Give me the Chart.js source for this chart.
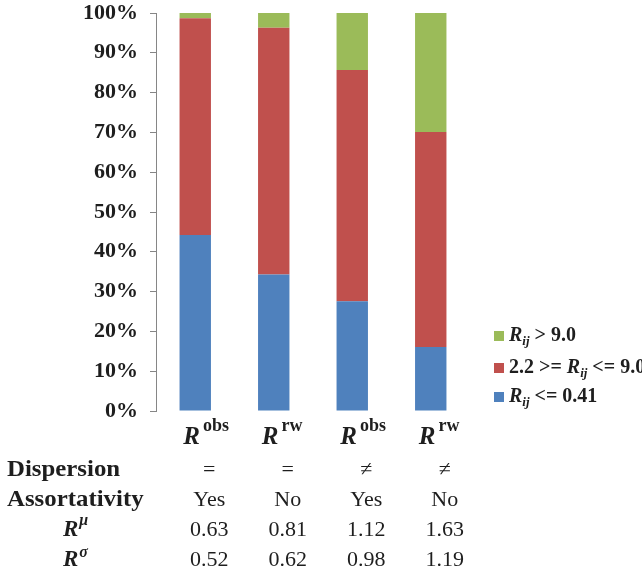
<!DOCTYPE html>
<html>
<head>
<meta charset="utf-8">
<script src="https://cdn.jsdelivr.net/npm/chart.js@4/dist/chart.umd.min.js"></script>
<style>
html,body{margin:0;padding:0;background:#fff;}
#wrap{width:642px;height:574px;position:relative;}
</style>
</head>
<body>
<div id="wrap"><canvas id="c" width="642" height="574"></canvas></div>
<script>
// ---- data ----
const categories = ['obs', 'rw', 'obs', 'rw'];          // superscripts of R
const lowShare  = [44.2, 34.3, 27.6, 16.1];            // R_ij <= 0.41
const midShare  = [54.5, 62.0, 58.1, 54.0];            // 2.2 >= R_ij <= 9.0
const highShare = [1.3, 3.7, 14.3, 29.9];              // R_ij > 9.0
const yTickValues = [0,10,20,30,40,50,60,70,80,90,100];
const dispersion    = ['=', '=', '\u2260', '\u2260'];
const assortativity = ['Yes', 'No', 'Yes', 'No'];
const rMu    = ['0.63', '0.81', '1.12', '1.63'];
const rSigma = ['0.52', '0.62', '0.98', '1.19'];
const seriesNames = ['R_ij <= 0.41', '2.2 >= R_ij <= 9.0', 'R_ij > 9.0'];
const seriesColors = ['#4F81BD', '#C0504D', '#9BBB59'];

const SERIF = '"Liberation Serif", "Times New Roman", serif';
const INK = '#1e1e1e';

// legend rich-text pieces: [prefix, suffix]
const legendParts = [['', ' <= 0.41'], ['2.2 >= ', ' <= 9.0'], ['', ' > 9.0']];

const richPlugin = {
  id: 'rich',
  afterDraw(chart) {
    const ctx = chart.ctx;
    const xs = chart.scales.x;
    ctx.save();
    ctx.fillStyle = INK;
    ctx.textBaseline = 'alphabetic';
    ctx.textAlign = 'left';
    // x category labels: bold italic R with bold superscript
    categories.forEach((sup, i) => {
      const cx = xs.getPixelForValue(i);
      let x = cx - 12;
      ctx.font = 'italic bold 25px ' + SERIF;
      ctx.fillText('R', x, 444);
      x += ctx.measureText('R').width + 3;
      ctx.font = 'bold 18px ' + SERIF;
      ctx.fillText(sup, x, 431);
    });
    // table
    const rowY = [476, 506, 536, 566];
    const stretched = (t, x, y, sx) => {
      ctx.save();
      ctx.translate(x, y);
      ctx.scale(sx, 1);
      ctx.fillText(t, 0, 0);
      ctx.restore();
    };
    ctx.font = 'bold 23px ' + SERIF;
    stretched('Dispersion', 7, rowY[0], 1.08);
    stretched('Assortativity', 7, rowY[1], 1.08);
    const drawRSup = (sup, y, dy) => {
      ctx.font = 'italic bold 23px ' + SERIF;
      ctx.fillText('R', 63, y);
      const w = ctx.measureText('R').width;
      ctx.font = 'italic bold 16px ' + SERIF;
      ctx.fillText(sup, 63 + w + 1, y - dy);
    };
    drawRSup('\u03BC', rowY[2], 11);
    drawRSup('\u03C3', rowY[3], 9);
    ctx.textAlign = 'center';
    ctx.font = '22px ' + SERIF;
    const rows = [dispersion, assortativity, rMu, rSigma];
    rows.forEach((row, r) => {
      row.forEach((t, i) => {
        const cx = xs.getPixelForValue(i) + 14;
        ctx.fillText(t, cx, rowY[r]);
      });
    });
    // legend (top entry = last dataset)
    ctx.textAlign = 'left';
    const legY = [402, 373, 341];
    legendParts.forEach((p, k) => {
      const y = legY[k];
      ctx.fillStyle = chart.data.datasets[k].backgroundColor;
      ctx.fillRect(494, y - 10, 10, 10);
      ctx.fillStyle = INK;
      let x = 509;
      ctx.font = 'bold 20px ' + SERIF;
      if (p[0]) { ctx.fillText(p[0], x, y); x += ctx.measureText(p[0]).width; }
      ctx.font = 'italic bold 20px ' + SERIF;
      ctx.fillText('R', x, y); x += ctx.measureText('R').width;
      ctx.font = 'italic bold 13px ' + SERIF;
      ctx.fillText('ij', x, y + 4); x += ctx.measureText('ij').width;
      ctx.font = 'bold 20px ' + SERIF;
      ctx.fillText(p[1], x, y);
    });
    ctx.restore();
  }
};

new Chart(document.getElementById('c'), {
  type: 'bar',
  data: {
    labels: categories,
    datasets: [
      { label: seriesNames[0], data: lowShare,  backgroundColor: seriesColors[0] },
      { label: seriesNames[1], data: midShare,  backgroundColor: seriesColors[1] },
      { label: seriesNames[2], data: highShare, backgroundColor: seriesColors[2] }
    ]
  },
  options: {
    responsive: false,
    animation: false,
    devicePixelRatio: 1,
    layout: { padding: { left: 0, right: 172, top: 0, bottom: 163 } },
    datasets: { bar: { categoryPercentage: 1, barPercentage: 0.4, borderWidth: 0 } },
    plugins: { legend: { display: false }, tooltip: { enabled: false } },
    scales: {
      x: { stacked: true, display: false },
      y: {
        stacked: true, min: 0, max: 100,
        afterFit(s) { s.width = 156; s.paddingTop = 13; },
        afterBuildTicks(s) { s.ticks = yTickValues.map(v => ({ value: v })); },
        border: { display: true, color: '#868686', width: 1 },
        grid: { drawOnChartArea: false, drawTicks: true, tickLength: 6, color: '#868686' },
        ticks: {
          padding: 12, color: INK,
          font: { family: SERIF, size: 22, weight: 'bold' },
          callback: v => v + '%'
        }
      }
    }
  },
  plugins: [richPlugin]
});
</script>
</body>
</html>
